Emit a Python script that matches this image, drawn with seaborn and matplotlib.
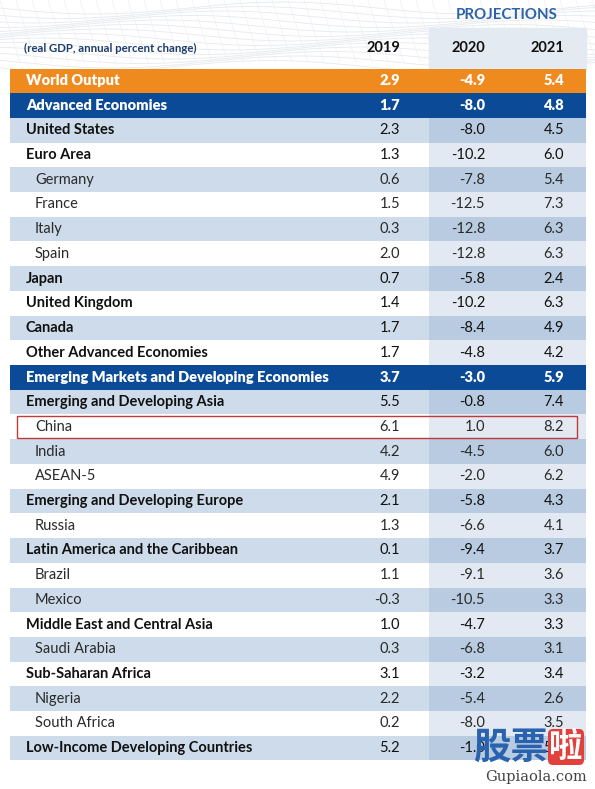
import numpy as np
import matplotlib
matplotlib.use('Agg')
import matplotlib.pyplot as plt
from matplotlib.colors import ListedColormap
from matplotlib.patches import Rectangle, FancyBboxPatch
import seaborn as sns

# table data (real GDP, annual percent change)
countries = ['World Output', 'Advanced Economies', 'United States', 'Euro Area',
             'Germany', 'France', 'Italy', 'Spain', 'Japan', 'United Kingdom',
             'Canada', 'Other Advanced Economies',
             'Emerging Markets and Developing Economies',
             'Emerging and Developing Asia', 'China', 'India', 'ASEAN-5',
             'Emerging and Developing Europe', 'Russia',
             'Latin America and the Caribbean', 'Brazil', 'Mexico',
             'Middle East and Central Asia', 'Saudi Arabia',
             'Sub-Saharan Africa', 'Nigeria', 'South Africa',
             'Low-Income Developing Countries']
# 0 = orange headline, 1 = blue headline, 2 = bold group, 3 = indented country
levels = [0, 1, 2, 2, 3, 3, 3, 3, 2, 2, 2, 2, 1, 2, 3, 3, 3, 2, 3, 2, 3, 3, 2, 3, 2, 3, 3, 2]
years = ['2019', '2020', '2021']
g2019 = [2.9, 1.7, 2.3, 1.3, 0.6, 1.5, 0.3, 2.0, 0.7, 1.4, 1.7, 1.7, 3.7, 5.5, 6.1,
         4.2, 4.9, 2.1, 1.3, 0.1, 1.1, -0.3, 1.0, 0.3, 3.1, 2.2, 0.2, 5.2]
g2020 = [-4.9, -8.0, -8.0, -10.2, -7.8, -12.5, -12.8, -12.8, -5.8, -10.2, -8.4, -4.8,
         -3.0, -0.8, 1.0, -4.5, -2.0, -5.8, -6.6, -9.4, -9.1, -10.5, -4.7, -6.8,
         -3.2, -5.4, -8.0, -1.0]
g2021 = [5.4, 4.8, 4.5, 6.0, 5.4, 7.3, 6.3, 6.3, 2.4, 6.3, 4.9, 4.2, 5.9, 7.4, 8.2,
         6.0, 6.2, 4.3, 4.1, 3.7, 3.6, 3.3, 3.3, 3.1, 3.4, 2.6, 3.5, 5.2]
highlight = 'China'

W, H = 595, 789
top, bottom = 68.5, 760.5
left, split, right = 10, 429, 586
n = len(countries)
rh = (bottom - top) / n

orange = '#ef8a1e'
navy = '#0b4a96'
band_l, white_l = '#cddbea', '#ffffff'
band_r, white_r = '#b8cbe0', '#e2e9f2'
cmap = ListedColormap([orange, navy, band_l, white_l, band_r, white_r])

# cell colour codes
codes_l, codes_r = [], []
k = 0
for lv in levels:
    if lv < 2:
        codes_l.append(lv)
        codes_r.append(lv)
    else:
        codes_l.append(2 if k % 2 == 0 else 3)
        codes_r.append(4 if k % 2 == 0 else 5)
        k += 1

fig = plt.figure(figsize=(W / 100, H / 100), dpi=100)
fig.patch.set_facecolor('white')

# faint wave texture at the top
bg = fig.add_axes([0, 0, 1, 1])
bg.set_xlim(0, W)
bg.set_ylim(H, 0)
bg.axis('off')
xs = np.linspace(0, W, 300)
for j in range(14):
    ys = 8 + j * 4.5 + 6 * np.sin(xs / 60 + j * 0.5)
    bg.plot(xs, ys, color='#e6e9ee', lw=0.6, zorder=0)
for j in range(40):
    x0 = j * 16
    bg.plot([x0, x0 + 20], [0, 62], color='#eceff3', lw=0.5, zorder=0)
bg.add_patch(Rectangle((split, 28), right - split, top - 28, color='#e4eaf2', zorder=1))

def table_axes(x0, x1):
    return fig.add_axes([x0 / W, 1 - bottom / H, (x1 - x0) / W, (bottom - top) / H])

ax_l = table_axes(left, split)
sns.heatmap(np.array(codes_l).reshape(-1, 1), ax=ax_l, cmap=cmap, vmin=-0.5, vmax=5.5,
            cbar=False, xticklabels=False, yticklabels=False)
ax_r = table_axes(split, right)
sns.heatmap(np.array(codes_r).reshape(-1, 1), ax=ax_r, cmap=cmap, vmin=-0.5, vmax=5.5,
            cbar=False, xticklabels=False, yticklabels=False)

# overlay for text, in pixel units
ov = fig.add_axes([0, 0, 1, 1])
ov.set_xlim(0, W)
ov.set_ylim(H, 0)
ov.axis('off')

font = 'Lato'
ov.text(507, 15, 'PROJECTIONS', ha='center', va='center', color='#2c63a6',
        fontsize=10.8, fontweight='bold', family=font)
ov.text(24, 48, '(real GDP, annual percent change)', ha='left', va='center',
        color='#1d3d6c', fontsize=8.2, fontweight='bold', family=font)
col_x = [400, 485, 564]
for cx, yr in zip(col_x, years):
    ov.text(cx, 48, yr, ha='right', va='center', color='#111111',
            fontsize=10.5, fontweight='bold', family=font)

for i, (name, lv) in enumerate(zip(countries, levels)):
    y = top + (i + 0.5) * rh
    if lv < 2:
        color, weight, x, fs = 'white', 'heavy', 26, 10.5
    elif lv == 2:
        color, weight, x, fs = '#111111', 'bold', 26, 10.5
    else:
        color, weight, x, fs = '#2a2a2a', 'normal', 35, 10.5
    ov.text(x, y, name, ha='left', va='center', color=color, fontsize=fs,
            fontweight=weight, family=font)
    numw = 'heavy' if lv < 2 else 'normal'
    for cx, v in zip(col_x, (g2019[i], g2020[i], g2021[i])):
        ov.text(cx, y, f'{v:.1f}', ha='right', va='center', color=color,
                fontsize=10.5, fontweight=numw, family=font)
    if name == highlight:
        ov.add_patch(Rectangle((17, y - rh / 2 + 1.5), 560, rh - 3, fill=False,
                               ec='#c0393d', lw=1.0, zorder=5))

# watermark
ov.add_patch(FancyBboxPatch((549, 730), 34, 34, boxstyle='round,pad=1,rounding_size=5',
                            fc='#e2403a', ec='none', zorder=6))
ov.text(511, 747, '股票', ha='center', va='center', color='#2a63ad', fontsize=27,
        fontweight='bold', family=['Noto Sans CJK SC'], zorder=7)
ov.text(566, 747, '啦', ha='center', va='center', color='white', fontsize=24,
        fontweight='bold', family=['Noto Sans CJK SC'], zorder=7)
ov.text(587, 777, 'Gupiaola.com', ha='right', va='center', color='#444444',
        fontsize=10.5, family='DejaVu Serif', zorder=7)

fig.savefig('out.png', dpi=100)
